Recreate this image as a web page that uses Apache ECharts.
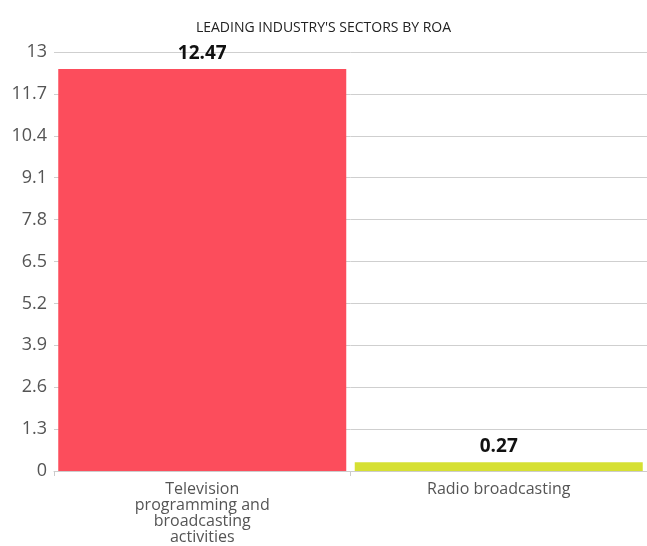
<!DOCTYPE html>
<html>
<head>
<meta charset="utf-8">
<script src="https://cdn.jsdelivr.net/npm/echarts@6/dist/echarts.min.js"></script>
<style>
  html, body { margin: 0; padding: 0; background: #fff; }
  #chart { width: 647px; height: 546px; }
</style>
</head>
<body>
<div id="chart"></div>
<script>
// Sectors and their return on assets (%)
const categories = ['Television\nprogramming and\nbroadcasting\nactivities', 'Radio broadcasting'];
const roaValues = [12.47, 0.27];
const barColors = ['#fc4d5c', '#d6e033'];
const titleText = "LEADING INDUSTRY'S SECTORS BY ROA";

const fontFamily = '"Open Sans", sans-serif';

const chart = echarts.init(document.getElementById('chart'), null, { renderer: 'canvas' });

chart.setOption({
  animation: false,
  backgroundColor: '#ffffff',
  title: {
    text: titleText,
    left: 'center',
    top: 16,
    textStyle: { fontFamily: fontFamily, fontSize: 14, fontWeight: 'normal', color: '#222' }
  },
  grid: { left: 54, right: -5, top: 52, bottom: 75, containLabel: false },
  xAxis: {
    type: 'category',
    data: categories,
    axisLine: { lineStyle: { color: '#cccccc' } },
    axisTick: { show: true, length: 5, lineStyle: { color: '#cccccc' } },
    axisLabel: {
      fontFamily: fontFamily,
      fontSize: 16,
      lineHeight: 16,
      color: '#555',
      margin: 10
    }
  },
  yAxis: {
    type: 'value',
    min: 0,
    max: 13,
    interval: 1.3,
    axisLine: { show: false },
    axisTick: { show: false },
    splitLine: { lineStyle: { color: '#cfcfcf', width: 1 } },
    axisLabel: {
      fontFamily: fontFamily,
      fontSize: 18,
      color: '#555',
      margin: 7,
      formatter: v => String(Math.round(v * 10) / 10)
    }
  },
  series: [{
    type: 'bar',
    barWidth: 288,
    data: roaValues.map((v, i) => ({ value: v, itemStyle: { color: barColors[i] } })),
    label: {
      show: true,
      position: 'top',
      distance: 6,
      fontFamily: fontFamily,
      fontSize: 19,
      fontWeight: 'bold',
      color: '#111',
      formatter: p => p.value.toFixed(2)
    }
  }]
});
</script>
</body>
</html>
